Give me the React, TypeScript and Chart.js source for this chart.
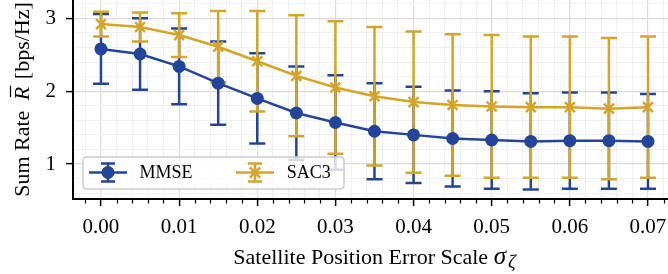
import React, { useEffect, useRef } from "react";
import { Chart, registerables } from "chart.js";
Chart.register(...registerables);

// ---- data ----
const xValues = [0, 0.005, 0.01, 0.015, 0.02, 0.025, 0.03, 0.035, 0.04, 0.045, 0.05, 0.055, 0.06, 0.065, 0.07];
const mmseMean = [2.58, 2.51, 2.34, 2.11, 1.9, 1.7, 1.57, 1.45, 1.4, 1.35, 1.33, 1.31, 1.32, 1.32, 1.31];
const mmseStd = [0.48, 0.49, 0.52, 0.57, 0.62, 0.64, 0.65, 0.66, 0.66, 0.66, 0.67, 0.66, 0.66, 0.66, 0.65];
const sac3Mean = [2.92, 2.88, 2.77, 2.61, 2.41, 2.21, 2.05, 1.93, 1.85, 1.81, 1.79, 1.78, 1.78, 1.76, 1.78];
const sac3Std = [0.17, 0.2, 0.3, 0.49, 0.69, 0.83, 0.91, 0.95, 0.97, 0.97, 0.98, 0.97, 0.97, 0.97, 0.97];
const seriesNames = ["MMSE", "SAC3"];

const xMajorTicks = [0, 0.01, 0.02, 0.03, 0.04, 0.05, 0.06, 0.07];
const xTickLabels = ["0.00", "0.01", "0.02", "0.03", "0.04", "0.05", "0.06", "0.07"];
const xMinorStep = 0.002;
const yMajorTicks = [1, 2, 3];
const yTickLabels = ["1", "2", "3"];
const yMinorStep = 0.2;

const xTitle = "Satellite Position Error Scale ";
const yTitleA = "Sum Rate ";
const yTitleB = " [bps/Hz]";

// ---- styles ----
const BLUE = "#23449b";
const GOLD = "#d4a527";
const FONT = "'Liberation Serif', 'DejaVu Serif', serif";

const isMajor = (list: number[], v: number) => list.some((m) => Math.abs(m - v) < 1e-9);
const stepTicks = (min: number, max: number, step: number) => {
  const out: { value: number }[] = [];
  for (let i = Math.ceil(min / step - 1e-9); i <= Math.floor(max / step + 1e-9); i++) {
    out.push({ value: Math.round(i * step * 1e6) / 1e6 });
  }
  return out;
};

const drawBar = (ctx: CanvasRenderingContext2D, x: number, y1: number, y2: number, cap: number) => {
  ctx.beginPath();
  ctx.moveTo(x, y1);
  ctx.lineTo(x, y2);
  ctx.moveTo(x - cap, y1);
  ctx.lineTo(x + cap, y1);
  ctx.moveTo(x - cap, y2);
  ctx.lineTo(x + cap, y2);
  ctx.stroke();
};

const errorBarPlugin = {
  id: "errorBars",
  beforeDatasetsDraw(chart: any) {
    const { ctx, scales } = chart;
    const xs = scales.x;
    const ys = scales.y;
    const series = [
      { mean: mmseMean, std: mmseStd, color: BLUE },
      { mean: sac3Mean, std: sac3Std, color: GOLD },
    ];
    ctx.save();
    ctx.lineWidth = 2.5;
    ctx.lineCap = "butt";
    for (const s of series) {
      ctx.strokeStyle = s.color;
      xValues.forEach((xv, i) => {
        const px = xs.getPixelForValue(xv);
        const top = ys.getPixelForValue(s.mean[i] + s.std[i]);
        const bot = ys.getPixelForValue(s.mean[i] - s.std[i]);
        drawBar(ctx, px, top, bot, 8);
      });
    }
    ctx.restore();
  },
};

const decorPlugin = {
  id: "decor",
  afterDraw(chart: any) {
    const { ctx, chartArea, scales } = chart;
    const xs = scales.x;
    ctx.save();
    // minor x ticks
    ctx.strokeStyle = "#000";
    ctx.lineWidth = 1.2;
    for (const t of xs.ticks) {
      if (isMajor(xMajorTicks, t.value)) continue;
      const px = Math.round(xs.getPixelForValue(t.value)) + 0.5;
      ctx.beginPath();
      ctx.moveTo(px, chartArea.bottom);
      ctx.lineTo(px, chartArea.bottom + 4.5);
      ctx.stroke();
    }

    // legend
    const L = chartArea.left;
    const B = chartArea.bottom;
    const bx = L + 10, by = B - 42, bw = 261, bh = 32, r = 4;
    ctx.beginPath();
    ctx.moveTo(bx + r, by);
    ctx.lineTo(bx + bw - r, by);
    ctx.quadraticCurveTo(bx + bw, by, bx + bw, by + r);
    ctx.lineTo(bx + bw, by + bh - r);
    ctx.quadraticCurveTo(bx + bw, by + bh, bx + bw - r, by + bh);
    ctx.lineTo(bx + r, by + bh);
    ctx.quadraticCurveTo(bx, by + bh, bx, by + bh - r);
    ctx.lineTo(bx, by + r);
    ctx.quadraticCurveTo(bx, by, bx + r, by);
    ctx.closePath();
    ctx.fillStyle = "rgba(255,255,255,0.8)";
    ctx.fill();
    ctx.strokeStyle = "#cccccc";
    ctx.lineWidth = 1.5;
    ctx.stroke();

    const ly = by + 15.5;
    const entries = [
      { x0: L + 16, color: BLUE, marker: "circle", textX: L + 66.5, name: seriesNames[0] },
      { x0: L + 163, color: GOLD, marker: "x", textX: L + 213.7, name: seriesNames[1] },
    ];
    for (const e of entries) {
      const cx = e.x0 + 19;
      ctx.strokeStyle = e.color;
      ctx.lineWidth = 2.5;
      ctx.beginPath();
      ctx.moveTo(e.x0, ly);
      ctx.lineTo(e.x0 + 38, ly);
      ctx.stroke();
      drawBar(ctx, cx, ly - 9, ly + 9, 7);
      if (e.marker === "circle") {
        ctx.fillStyle = e.color;
        ctx.beginPath();
        ctx.arc(cx, ly, 6.5, 0, Math.PI * 2);
        ctx.fill();
      } else {
        const d = 5.2;
        ctx.beginPath();
        ctx.moveTo(cx - d, ly - d);
        ctx.lineTo(cx + d, ly + d);
        ctx.moveTo(cx - d, ly + d);
        ctx.lineTo(cx + d, ly - d);
        ctx.stroke();
      }
      ctx.fillStyle = "#000";
      ctx.font = `18px ${FONT}`;
      ctx.textBaseline = "middle";
      ctx.textAlign = "left";
      ctx.fillText(e.name, e.textX, ly + 1);
    }

    // x title
    ctx.textBaseline = "alphabetic";
    ctx.fillStyle = "#000";
    const fN = `22px ${FONT}`;
    const fI = `italic 22px ${FONT}`;
    const fSig = `italic 25px ${FONT}`;
    const fS = `italic 19px ${FONT}`;
    ctx.font = fN;
    const w1 = ctx.measureText(xTitle).width;
    ctx.font = fSig;
    const w2 = ctx.measureText("σ").width;
    ctx.font = fS;
    const w3 = ctx.measureText("ζ").width;
    const total = w1 + w2 + w3 + 2;
    let tx = (chartArea.left + chartArea.right) / 2 - total / 2 + 4;
    const tb = 263.5;
    ctx.font = fN;
    ctx.fillText(xTitle, tx, tb);
    tx += w1;
    ctx.font = fSig;
    ctx.fillText("σ", tx, tb);
    tx += w2 + 2;
    ctx.font = fS;
    ctx.fillText("ζ", tx, tb + 4);

    // y title
    ctx.save();
    ctx.translate(28.5, (chartArea.top + chartArea.bottom) / 2);
    ctx.rotate(-Math.PI / 2);
    ctx.font = fN;
    const a = ctx.measureText(yTitleA).width + 5;
    ctx.font = fI;
    const b = ctx.measureText("R").width;
    ctx.font = fN;
    const c = ctx.measureText(yTitleB).width + 2;
    let sx = -(a + b + c) / 2;
    ctx.fillText(yTitleA, sx, 0);
    sx += a;
    ctx.font = fI;
    ctx.fillText("R", sx, 0);
    ctx.lineWidth = 1.2;
    ctx.strokeStyle = "#000";
    ctx.beginPath();
    ctx.moveTo(sx + 3, -18);
    ctx.lineTo(sx + b + 1, -18);
    ctx.stroke();
    sx += b + 2;
    ctx.font = fN;
    ctx.fillText(yTitleB, sx, 0);
    ctx.restore();

    ctx.restore();
  },
};

export default function App() {
  const ref = useRef<HTMLCanvasElement>(null);
  useEffect(() => {
    document.body.style.margin = "0";
    const canvas = ref.current!;
    const chart = new Chart(canvas, {
      type: "line",
      data: {
        datasets: [
          {
            label: seriesNames[0],
            data: xValues.map((x, i) => ({ x, y: mmseMean[i] })),
            borderColor: BLUE,
            backgroundColor: BLUE,
            borderWidth: 2.5,
            pointStyle: "circle",
            pointRadius: 6.5,
            pointBorderWidth: 0,
            pointBackgroundColor: BLUE,
            order: 2,
          },
          {
            label: seriesNames[1],
            data: xValues.map((x, i) => ({ x, y: sac3Mean[i] })),
            borderColor: GOLD,
            backgroundColor: GOLD,
            borderWidth: 2.5,
            pointStyle: "crossRot",
            pointRadius: 7,
            pointBorderWidth: 2.5,
            pointBorderColor: GOLD,
            order: 1,
          },
        ],
      },
      options: {
        responsive: false,
        animation: false,
        events: [],
        layout: { padding: 0, autoPadding: false },
        plugins: { legend: { display: false }, tooltip: { enabled: false }, title: { display: false } },
        scales: {
          x: {
            type: "linear",
            min: -0.00358,
            max: 0.07256,
            afterBuildTicks: (s: any) => {
              s.ticks = stepTicks(s.min, s.max, xMinorStep);
            },
            afterFit: (s: any) => {
              s.height = 75;
              s.paddingLeft = 0;
              s.paddingRight = 0;
            },
            ticks: {
              autoSkip: false,
              maxRotation: 0,
              minRotation: 0,
              padding: 9,
              color: "#000",
              font: { family: FONT, size: 21 },
              callback: (v: any) => {
                const i = xMajorTicks.findIndex((m) => Math.abs(m - v) < 1e-9);
                return i >= 0 ? xTickLabels[i] : "";
              },
            },
            grid: {
              color: (c: any) => (isMajor(xMajorTicks, c.tick?.value) ? "#dcdcdc" : "#f0f0f0"),
              lineWidth: (c: any) => (isMajor(xMajorTicks, c.tick?.value) ? 1.2 : 1),
              tickColor: (c: any) => (isMajor(xMajorTicks, c.tick?.value) ? "#000" : "rgba(0,0,0,0)"),
              tickWidth: 1.5,
              tickLength: 7,
            },
            border: { display: true, color: "#000", width: 2 },
          },
          y: {
            type: "linear",
            min: 0.52,
            max: 3.251,
            afterBuildTicks: (s: any) => {
              s.ticks = stepTicks(s.min, s.max, yMinorStep);
            },
            afterFit: (s: any) => {
              s.width = 73;
              s.paddingTop = 0;
              s.paddingBottom = 0;
            },
            ticks: {
              autoSkip: false,
              padding: 10,
              color: "#000",
              font: { family: FONT, size: 21 },
              callback: (v: any) => {
                const i = yMajorTicks.findIndex((m) => Math.abs(m - v) < 1e-9);
                return i >= 0 ? yTickLabels[i] : "";
              },
            },
            grid: {
              color: (c: any) => (isMajor(yMajorTicks, c.tick?.value) ? "#dcdcdc" : "#f0f0f0"),
              lineWidth: (c: any) => (isMajor(yMajorTicks, c.tick?.value) ? 1.2 : 1),
              tickColor: (c: any) => (isMajor(yMajorTicks, c.tick?.value) ? "#000" : "rgba(0,0,0,0)"),
              tickWidth: 1.5,
              tickLength: 7,
            },
            border: { display: true, color: "#000", width: 2 },
          },
        },
      },
      plugins: [errorBarPlugin, decorPlugin],
    } as any);
    return () => chart.destroy();
  }, []);
  return (
    <div style={{ width: 668, height: 274 }}>
      <canvas ref={ref} width={668} height={274} style={{ display: "block", width: 668, height: 274 }} />
    </div>
  );
}
